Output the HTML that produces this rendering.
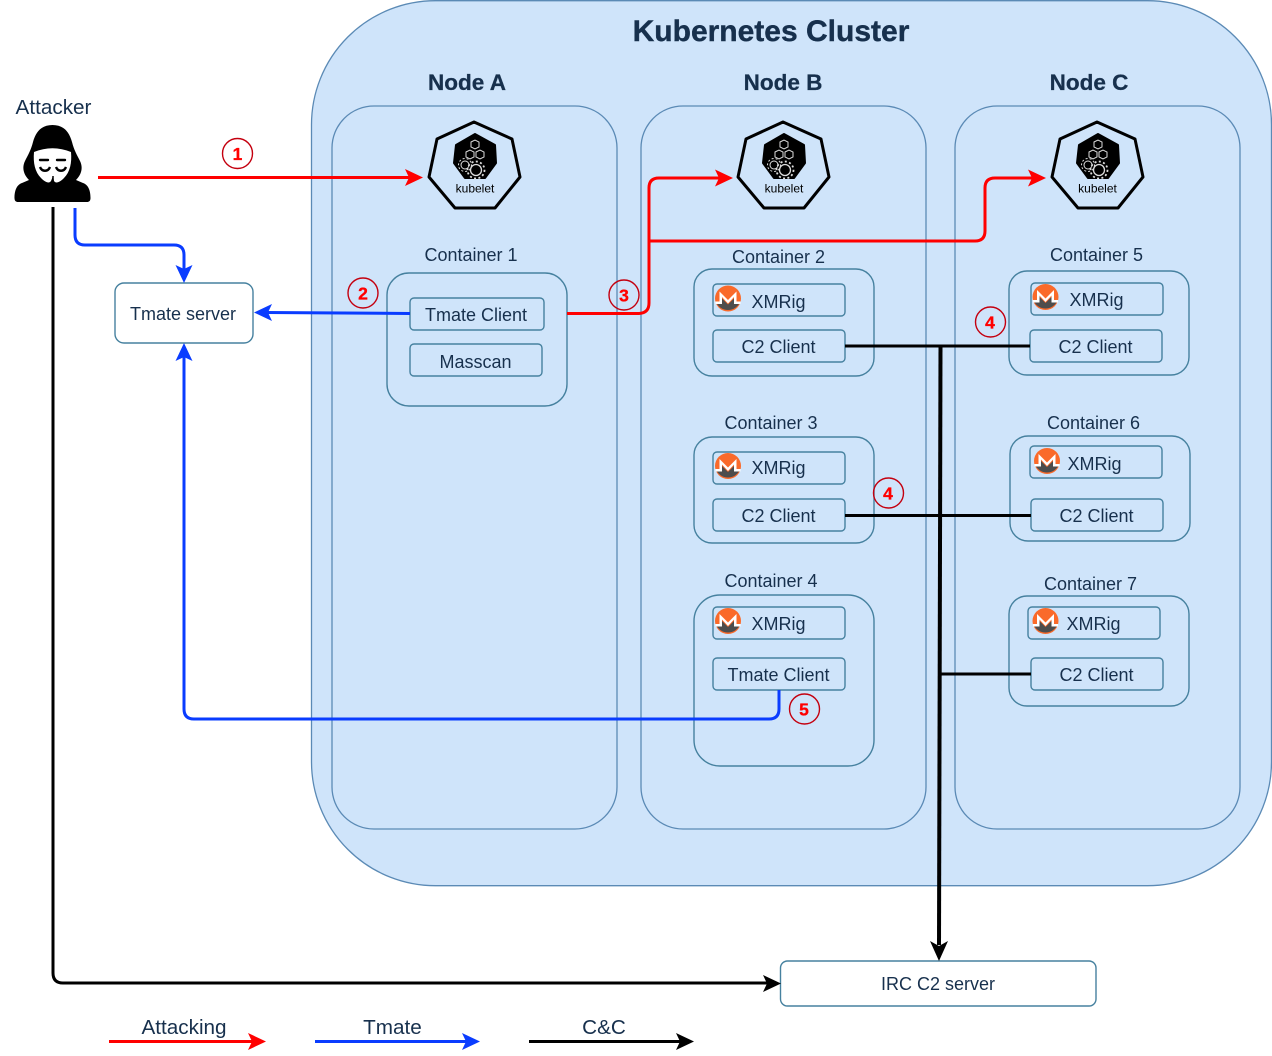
<!DOCTYPE html>
<html><head><meta charset="utf-8"><style>
html,body{margin:0;padding:0;background:#fff}
svg{display:block}
text{font-family:"Liberation Sans",sans-serif;fill:#17304d;text-anchor:middle}
.t{font-size:18px}
.h{font-size:22.500px;font-weight:bold;stroke:#17304d;stroke-width:.3px}
.n{fill:#cfe4fa;stroke:#5b8ab5;stroke-width:1.3}
.c{fill:#cfe4fa;stroke:#46819f;stroke-width:1.4}
.w{fill:#fff;stroke:#46819f;stroke-width:1.4}
.f{fill:none;stroke-width:3}
.b{font-size:17.500px;font-weight:bold;fill:#ff0000;stroke:#ff0000;stroke-width:.3px}
.o{fill:none;stroke:#c4000f;stroke-width:1.4}
.k{font-size:12px;fill:#000}
</style></head><body>
<svg width="1272" height="1056" viewBox="0 0 1272 1056" xmlns="http://www.w3.org/2000/svg">
<defs>
<g id="kube">
<polygon points="-1,-45 37,-28 45,10 20,41 -20,41 -46,10 -38,-28" fill="none" stroke="#000" stroke-width="3" stroke-linejoin="round"/>
<polygon points="0,-33 20,-22 21,-4 10,11 -10,11 -21,-4 -19,-22" fill="#000" stroke="#000" stroke-linejoin="round" stroke-width="2"/>
<g fill="none" stroke="#ddd" stroke-width="1">
<path d="M-4,-25 l4,-2 4,2 v5 l-4,2 -4,-2 z"/>
<path d="M-9,-15 l4,-2 4,2 v5 l-4,2 -4,-2 z"/>
<path d="M1,-15 l4,-2 4,2 v5 l-4,2 -4,-2 z"/>
<circle cx="-10" cy="-2" r="4"/>
<circle cx="-10" cy="-2" r="6.500" stroke-dasharray="2 2"/>
<circle cx="1" cy="3" r="5.500" stroke-width="1.300"/>
<circle cx="1" cy="3" r="8.500" stroke-dasharray="2 2.400" stroke-width="1.800"/>
</g>
</g>
<g id="xmr">
<circle r="13" fill="#fa6a2a"/>
<path d="M-12,3.500 A13,13 0 0 0 12,3.500 H8 V-2 L0,6 -8,-2 V3.500 Z" fill="#4d4d4d"/>
<path d="M-8.500,3 V-7 L0,1.500 8.500,-7 V3 H12.500 V5.500 H6 V-1.500 L0,5 -6,-1.500 V5.500 H-12.500 V3 Z" fill="#fff"/>
</g>
</defs>

<rect x="311.500" y="0.700" width="960" height="885" rx="124" class="n"/>
<rect x="332" y="106" width="285" height="723" rx="42" class="n"/>
<rect x="641" y="106" width="285" height="723" rx="42" class="n"/>
<rect x="955" y="106" width="285" height="723" rx="42" class="n"/>

<text x="771" y="41" font-size="30" font-weight="bold" style="stroke:#17304d;stroke-width:.4px">Kubernetes Cluster</text>
<text x="467" y="90" class="h">Node A</text>
<text x="783" y="90" class="h">Node B</text>
<text x="1089" y="90" class="h">Node C</text>

<use href="#kube" x="475" y="167"/><text x="475" y="192.500" class="k">kubelet</text>
<use href="#kube" x="784" y="167"/><text x="784" y="192.500" class="k">kubelet</text>
<use href="#kube" x="1098" y="167"/><text x="1097.500" y="192.500" class="k">kubelet</text>

<!-- containers -->
<rect x="387" y="273" width="180" height="133" rx="22" class="c"/>
<rect x="694" y="269" width="180" height="107" rx="18" class="c"/>
<rect x="694" y="437" width="180" height="106" rx="18" class="c"/>
<rect x="694" y="595" width="180" height="171" rx="26" class="c"/>
<rect x="1009" y="271" width="180" height="104" rx="18" class="c"/>
<rect x="1010" y="436" width="180" height="105" rx="18" class="c"/>
<rect x="1009" y="596" width="180" height="110" rx="18" class="c"/>

<text x="471" y="261" class="t">Container 1</text>
<text x="778.500" y="263" class="t">Container 2</text>
<text x="771" y="429" class="t">Container 3</text>
<text x="771" y="587" class="t">Container 4</text>
<text x="1096.500" y="261" class="t">Container 5</text>
<text x="1093.500" y="429" class="t">Container 6</text>
<text x="1090.500" y="590" class="t">Container 7</text>

<!-- inner boxes -->
<rect x="410" y="298" width="134" height="32" rx="4" class="c"/><text x="476" y="321" class="t">Tmate Client</text>
<rect x="410" y="344" width="132" height="32" rx="4" class="c"/><text x="475.500" y="368" class="t">Masscan</text>

<rect x="713" y="284" width="132" height="32" rx="4" class="c"/><text x="778.500" y="308" class="t">XMRig</text>
<rect x="713" y="330" width="132" height="32" rx="4" class="c"/><text x="778.500" y="353" class="t">C2 Client</text>
<rect x="713" y="452" width="132" height="32" rx="4" class="c"/><text x="778.500" y="474" class="t">XMRig</text>
<rect x="713" y="499" width="132" height="32" rx="4" class="c"/><text x="778.500" y="522" class="t">C2 Client</text>
<rect x="713" y="607" width="132" height="32" rx="4" class="c"/><text x="778.500" y="630" class="t">XMRig</text>
<rect x="713" y="658" width="132" height="32" rx="4" class="c"/><text x="778.500" y="681" class="t">Tmate Client</text>

<rect x="1031" y="283" width="132" height="32" rx="4" class="c"/><text x="1096.500" y="306" class="t">XMRig</text>
<rect x="1030" y="330" width="132" height="32" rx="4" class="c"/><text x="1095.500" y="353" class="t">C2 Client</text>
<rect x="1030" y="446" width="132" height="32" rx="4" class="c"/><text x="1094.500" y="470" class="t">XMRig</text>
<rect x="1031" y="499" width="132" height="32" rx="4" class="c"/><text x="1096.500" y="522" class="t">C2 Client</text>
<rect x="1028" y="607" width="132" height="32" rx="4" class="c"/><text x="1093.500" y="630" class="t">XMRig</text>
<rect x="1031" y="658" width="132" height="32" rx="4" class="c"/><text x="1096.500" y="681" class="t">C2 Client</text>

<use href="#xmr" x="728" y="298.500"/>
<use href="#xmr" x="728" y="466"/>
<use href="#xmr" x="728" y="621"/>
<use href="#xmr" x="1045.500" y="297"/>
<use href="#xmr" x="1047" y="461"/>
<use href="#xmr" x="1045.500" y="621"/>

<!-- outer white boxes -->
<rect x="115" y="283" width="138" height="60" rx="9" class="w"/><text x="183" y="320" class="t">Tmate server</text>
<rect x="780.500" y="961" width="315.500" height="45" rx="7" class="w"/><text x="938" y="990" class="t">IRC C2 server</text>

<text x="53.500" y="114" font-size="20.700">Attacker</text>

<!-- attacker icon -->
<path d="M52.500,125 C42,125 36,131 33,142 C31,150 28,155 25,161 C22,167 23,174 29,180 L22,183 C16,185 14.500,192 14.500,198 C14.500,201 16,202 18,202 H87 C89,202 90.500,201 90.500,198 C90.500,192 89,185 83,183 L76,180 C82,174 83,167 80,161 C77,155 74,150 72,142 C69,131 63,125 52.500,125 Z" fill="#000"/>
<path d="M34,152 C46,147 59,147 71,152 C72,163 70,172 64,178 C60,182 56,184 54,181 L53,176 L51,181 C49,184 45,182 41,178 C35,172 33,163 34,152 Z" fill="#fff"/>
<path d="M40,160 H48 M57,160 H65" stroke="#000" stroke-width="2.400" stroke-linecap="round"/>
<path d="M40,167 C42,172 48,172 50,167 M56,167 C58,172 64,172 66,167" fill="none" stroke="#000" stroke-width="2.400"/>
<path d="M53,176 V184" stroke="#000" stroke-width="1.500"/>

<!-- black lines -->
<g class="f" fill="none" stroke="#000" style="fill:none">
<path d="M845,346 H1030"/>
<path d="M845,515.500 H1031"/>
<path d="M940,674 H1031"/>
<path d="M940.500,346 L939,945" stroke-width="4"/>
<path d="M53,207 V973 Q53,983 63,983 H768"/>
<path d="M529,1041.500 H680"/>
</g>
<polygon points="939,961 930,941 939,946 948,941" fill="#000"/>
<polygon points="781,983.500 763,975 767,983.500 763,992" fill="#000"/>
<polygon points="694,1041.500 676,1033 680,1041.500 676,1050" fill="#000"/>

<!-- red lines -->
<g class="f" fill="none" stroke="#ff0000" style="fill:none">
<path d="M98,177.500 H410"/>
<path d="M567,313.500 H639 Q649,313 649,303 V188 Q649,178 659,178 H720"/>
<path d="M649,241 H975 Q985,241 985,231 V188 Q985,178 995,178 H1033"/>
<path d="M109,1041.500 H252"/>
</g>
<polygon points="423,177.500 405,169 409,177.500 405,186" fill="#ff0000"/>
<polygon points="733,178 715,169.500 719,178 715,186.500" fill="#ff0000"/>
<polygon points="1046,178 1028,169.500 1032,178 1028,186.500" fill="#ff0000"/>
<polygon points="266,1041.500 248,1033 252,1041.500 248,1050" fill="#ff0000"/>

<!-- blue lines -->
<g class="f" fill="none" stroke="#0a3cff" style="fill:none">
<path d="M75,208 V235 Q75,245 85,245 H174 Q184,245 184,255 V270"/>
<path d="M410,313.500 L266,312.500"/>
<path d="M779,690 V709 Q779,719 769,719 H194 Q184,719 184,709 V356"/>
<path d="M315,1041.500 H466"/>
</g>
<polygon points="184,283 175.500,265 184,269 192.500,265" fill="#0a3cff"/>
<polygon points="254,312.500 272,304 268,312.500 272,321" fill="#0a3cff"/>
<polygon points="184,343 175.500,361 184,357 192.500,361" fill="#0a3cff"/>
<polygon points="480,1041.500 462,1033 466,1041.500 462,1050" fill="#0a3cff"/>

<!-- badges -->
<circle cx="237.500" cy="153.500" r="15" class="o"/><text x="237.500" y="160" class="b">1</text>
<circle cx="363" cy="293" r="15" class="o"/><text x="363" y="299.500" class="b">2</text>
<circle cx="624" cy="295" r="15" class="o"/><text x="624" y="301.500" class="b">3</text>
<circle cx="990.500" cy="322" r="15" class="o"/><text x="990" y="328.500" class="b">4</text>
<circle cx="888.500" cy="493" r="15" class="o"/><text x="888" y="499.500" class="b">4</text>
<circle cx="804.500" cy="709" r="15" class="o"/><text x="804" y="715.500" class="b">5</text>

<!-- legend -->
<text x="184" y="1034" font-size="20.700">Attacking</text>
<text x="392.500" y="1034" font-size="20.700">Tmate</text>
<text x="604" y="1034" font-size="20.700">C&amp;C</text>
</svg>
</body></html>
